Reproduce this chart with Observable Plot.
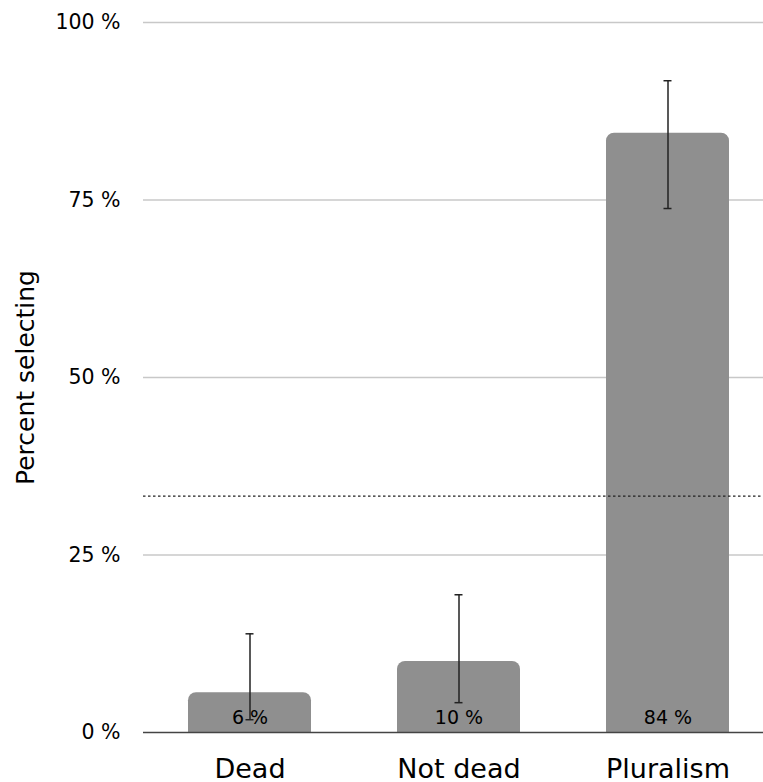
<!DOCTYPE html>
<html>
<head>
<meta charset="utf-8">
<script src="https://cdn.jsdelivr.net/npm/d3@7"></script>
<script src="https://cdn.jsdelivr.net/npm/@observablehq/plot@0.6"></script>
<style>
  html, body { margin: 0; padding: 0; background: #fff; }
  #chart svg { display: block; }
</style>
</head>
<body>
<div id="chart"></div>
<script>
const categories = ["Dead", "Not dead", "Pluralism"];
const values = [5.6, 10.0, 84.4];
const lower = [1.8, 4.2, 73.8];
const upper = [13.9, 19.4, 91.8];
const barLabels = ["6 %", "10 %", "84 %"];
const chanceLevel = 33.3;
const yTicks = [0, 25, 50, 75, 100];
const yTickLabels = ["0 %", "25 %", "50 %", "75 %", "100 %"];
const axisTitle = "Percent selecting";

const data = categories.map((c, i) => ({
  cat: c, value: values[i], lo: lower[i], hi: upper[i], label: barLabels[i]
}));

const font = "'DejaVu Sans', Verdana, sans-serif";

const chart = Plot.plot({
  width: 763,
  height: 782,
  marginTop: 22,
  marginBottom: 50,
  marginLeft: 143,
  marginRight: 0,
  style: { fontFamily: font, color: "#000", background: "#fff" },
  x: { domain: categories, range: [143, 773], paddingInner: 0.413, paddingOuter: 0.21, label: null },
  y: { domain: [0, 100], label: null },
  marks: [
    Plot.ruleY(yTicks.filter(d => d > 0), { stroke: "#c8c8c8", strokeWidth: 1.5 }),
    Plot.barY(data, {
      x: "cat", y: "value", fill: "#8f8f8f",
      rx1y1: 8, rx2y1: 8
    }),
    Plot.ruleY([chanceLevel], { stroke: "#222", strokeWidth: 1.3, strokeDasharray: "2.5,2.5" }),
    Plot.ruleX(data, { x: "cat", y1: "lo", y2: "hi", stroke: "#222", strokeWidth: 1.5 }),
    Plot.tickY(data, { x: "cat", y: "lo", stroke: "#222", strokeWidth: 1.5, insetLeft: 57.5, insetRight: 57.5 }),
    Plot.tickY(data, { x: "cat", y: "hi", stroke: "#222", strokeWidth: 1.5, insetLeft: 57.5, insetRight: 57.5 }),
    Plot.text(data, { x: "cat", y: 0, text: "label", dy: -15, fontSize: 19, fill: "#000", lineAnchor: "middle" }),
    Plot.ruleY([0], { stroke: "#444", strokeWidth: 1.5 }),
    Plot.axisY({
      ticks: yTicks, tickFormat: (d) => yTickLabels[yTicks.indexOf(d)],
      tickSize: 0, tickPadding: 23, fontSize: 20.5, label: null, fill: "#000"
    }),
    Plot.axisX({ tickSize: 0, tickPadding: 26, fontSize: 27, label: null, fill: "#000" }),
    Plot.text([axisTitle], {
      frameAnchor: "left", dx: -118, rotate: -90, textAnchor: "middle",
      fontSize: 25, fill: "#000", text: d => d
    })
  ]
});

document.getElementById("chart").appendChild(chart);
</script>
</body>
</html>
